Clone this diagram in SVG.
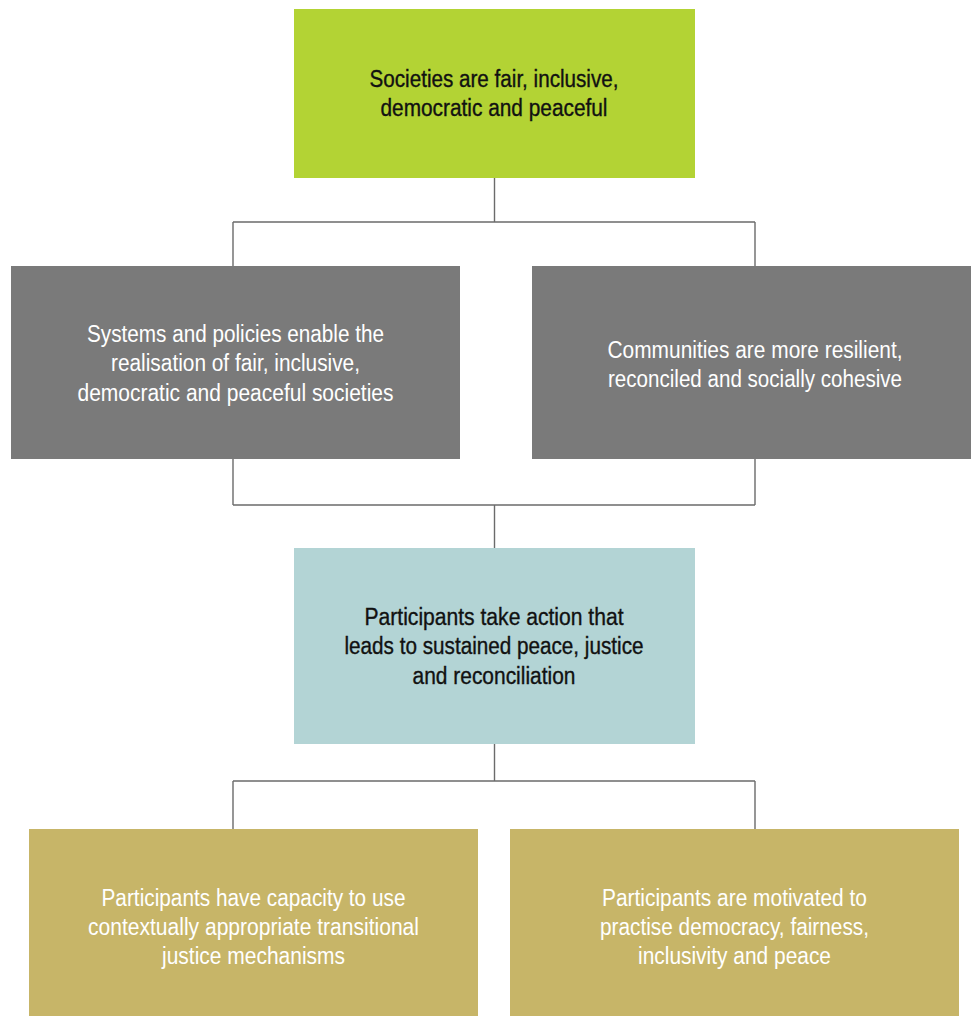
<svg xmlns="http://www.w3.org/2000/svg" width="971" height="1016" viewBox="0 0 971 1016">
<style>
.t{font-family:"Liberation Sans",Arial,sans-serif;font-size:23px;text-anchor:middle}
.dk{fill:#111111;stroke:#111111;stroke-width:0.35}
.lt{fill:#ffffff}
.conn{fill:none;stroke:#6b6b6b;stroke-width:1.4}
</style>
<rect width="971" height="1016" fill="#ffffff"/>
<g id="connectors" class="conn">
<path d="M494.5 178V222M233 222H755M233 222V266M755 222V266"/>
<path d="M233 459V505M755 459V505M233 505H755M494.5 505V548"/>
<path d="M494.5 744V781M233 781H755M233 781V829M755 781V829"/>
</g>
<g id="node-societies">
<rect x="294" y="9" width="401" height="169" fill="#b3d334"/>
<text class="t dk" x="494" y="87" textLength="249" lengthAdjust="spacingAndGlyphs">Societies are fair, inclusive,</text>
<text class="t dk" x="494" y="116" textLength="227" lengthAdjust="spacingAndGlyphs">democratic and peaceful</text>
</g>
<g id="node-systems">
<rect x="11" y="266" width="449" height="193" fill="#7a7a7a"/>
<text class="t lt" x="235.5" y="341.5" textLength="297" lengthAdjust="spacingAndGlyphs">Systems and policies enable the</text>
<text class="t lt" x="235.5" y="371" textLength="249" lengthAdjust="spacingAndGlyphs">realisation of fair, inclusive,</text>
<text class="t lt" x="235.5" y="400.5" textLength="316" lengthAdjust="spacingAndGlyphs">democratic and peaceful societies</text>
</g>
<g id="node-communities">
<rect x="532" y="266" width="439" height="193" fill="#7a7a7a"/>
<text class="t lt" x="755" y="358" textLength="295" lengthAdjust="spacingAndGlyphs">Communities are more resilient,</text>
<text class="t lt" x="755" y="387" textLength="294" lengthAdjust="spacingAndGlyphs">reconciled and socially cohesive</text>
</g>
<g id="node-action">
<rect x="294" y="548" width="401" height="196" fill="#b3d4d5"/>
<text class="t dk" x="494" y="625" textLength="259" lengthAdjust="spacingAndGlyphs">Participants take action that</text>
<text class="t dk" x="494" y="654" textLength="299" lengthAdjust="spacingAndGlyphs">leads to sustained peace, justice</text>
<text class="t dk" x="494" y="683.5" textLength="163" lengthAdjust="spacingAndGlyphs">and reconciliation</text>
</g>
<g id="node-capacity">
<rect x="29" y="829" width="449" height="187" fill="#c7b568"/>
<text class="t lt" x="253.5" y="905.5" textLength="304" lengthAdjust="spacingAndGlyphs">Participants have capacity to use</text>
<text class="t lt" x="253.5" y="934.5" textLength="331" lengthAdjust="spacingAndGlyphs">contextually appropriate transitional</text>
<text class="t lt" x="253.5" y="963.5" textLength="183" lengthAdjust="spacingAndGlyphs">justice mechanisms</text>
</g>
<g id="node-motivated">
<rect x="510" y="829" width="449" height="187" fill="#c7b568"/>
<text class="t lt" x="734.5" y="905.5" textLength="265" lengthAdjust="spacingAndGlyphs">Participants are motivated to</text>
<text class="t lt" x="734.5" y="934.5" textLength="269" lengthAdjust="spacingAndGlyphs">practise democracy, fairness,</text>
<text class="t lt" x="734.5" y="963.5" textLength="193" lengthAdjust="spacingAndGlyphs">inclusivity and peace</text>
</g>
</svg>
